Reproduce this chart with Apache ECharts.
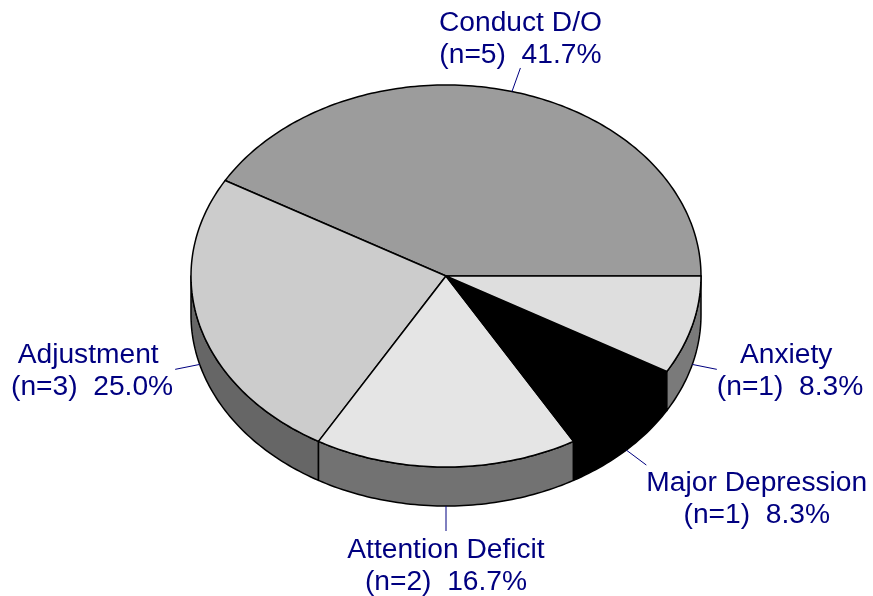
<!DOCTYPE html>
<html>
<head>
<meta charset="utf-8">
<style>
html, body { margin: 0; padding: 0; background: #fff; }
#main { width: 873px; height: 596px; }
</style>
<script src="https://cdn.jsdelivr.net/npm/echarts@6/dist/echarts.min.js"></script>
</head>
<body>
<div id="main"></div>
<script>
var categories = ['Conduct D/O', 'Adjustment', 'Attention Deficit', 'Major Depression', 'Anxiety'];
var counts = [5, 3, 2, 1, 1];
var percents = ['41.7%', '25.0%', '16.7%', '8.3%', '8.3%'];

var topColors = ['#9c9c9c', '#cccccc', '#e5e5e5', '#000000', '#dedede'];
var sideColors = ['#666666', '#666666', '#727272', '#000000', '#7a7a7a'];

var cx = 446, cy = 276, rx = 255, ry = 191, depth = 39;
var labelFont = '28.2px "Liberation Sans", Arial, sans-serif';
var navy = '#000080';

var total = 0;
for (var i = 0; i < counts.length; i++) {
	total += counts[i];
}

function rad(deg) {
	return deg * Math.PI / 180;
}

// point on the tilted pie, angle counted anticlockwise from east
function ellipsePoint(deg, drop) {
	return [cx + rx * Math.cos(rad(deg)), cy - ry * Math.sin(rad(deg)) + drop];
}

function arcPoints(from, to, drop) {
	var pts = [];
	var n = Math.max(2, Math.ceil(Math.abs(to - from)));
	for (var k = 0; k <= n; k++) {
		pts.push(ellipsePoint(from + (to - from) * k / n, drop));
	}
	return pts;
}

var measure = document.createElement('canvas').getContext('2d');
measure.font = labelFont;

function labelCenter(i, end, text) {
	var lines = text.split('\n');
	var half = Math.max(measure.measureText(lines[0]).width, measure.measureText(lines[1]).width) / 2;
	if (i == 0) return [end[0], end[1] - 29];
	if (i == 1) return [end[0] - 2 - half, end[1] + 2];
	if (i == 2) return [end[0], end[1] + 35];
	if (i == 3) return [end[0] + half, end[1] + 34];
	return [end[0] + half, end[1] + 2];
}

function renderSlice(params, api) {
	var i = params.dataIndex;
	var before = 0;
	for (var j = 0; j < i; j++) {
		before += counts[j];
	}
	var start = before / total * 360;
	var end = start + api.value(0) / total * 360;
	var mid = (start + end) / 2;
	var children = [];

	// side wall, only the front half shows
	var wallFrom = Math.max(start, 180);
	if (end > wallFrom) {
		var wall = arcPoints(wallFrom, end, 0).concat(arcPoints(end, wallFrom, depth));
		children.push({
			type: 'polygon',
			z2: 1,
			shape: { points: wall },
			style: { fill: sideColors[i], stroke: '#000', lineWidth: 1.5, lineJoin: 'round' }
		});
	}

	// top face
	children.push({
		type: 'polygon',
		z2: 2,
		shape: { points: [[cx, cy]].concat(arcPoints(start, end, 0)) },
		style: { fill: topColors[i], stroke: '#000', lineWidth: 1.5, lineJoin: 'round' }
	});

	// leader line and label
	var drop = mid > 180 ? depth : 0;
	var from = ellipsePoint(mid, drop);
	var dx = rx * Math.cos(rad(mid)), dy = -ry * Math.sin(rad(mid));
	var len = Math.sqrt(dx * dx + dy * dy);
	var to = [from[0] + dx / len * 25, from[1] + dy / len * 25];
	children.push({
		type: 'line',
		z2: 3,
		shape: { x1: from[0], y1: from[1], x2: to[0], y2: to[1] },
		style: { stroke: navy, lineWidth: 1 }
	});

	// the side labels sit a little left of their second line
	var pad = (i == 1 || i == 4) ? ' ' : '';
	var text = categories[i] + pad + '\n(n=' + api.value(0) + ')  ' + percents[i];
	var c = labelCenter(i, to, text);
	children.push({
		type: 'text',
		z2: 3,
		x: c[0],
		y: c[1],
		style: {
			text: text,
			font: labelFont,
			fill: navy,
			align: 'center',
			verticalAlign: 'middle',
			lineHeight: 32
		}
	});

	return { type: 'group', children: children };
}

var myChart = echarts.init(document.getElementById('main'), null, { renderer: 'canvas' });
var option = {
	backgroundColor: '#fff',
	animation: false,
	series: [{
		type: 'custom',
		coordinateSystem: 'none',
		renderItem: renderSlice,
		data: counts.map(function (v) { return [v]; })
	}]
};
myChart.setOption(option);
</script>
</body>
</html>
